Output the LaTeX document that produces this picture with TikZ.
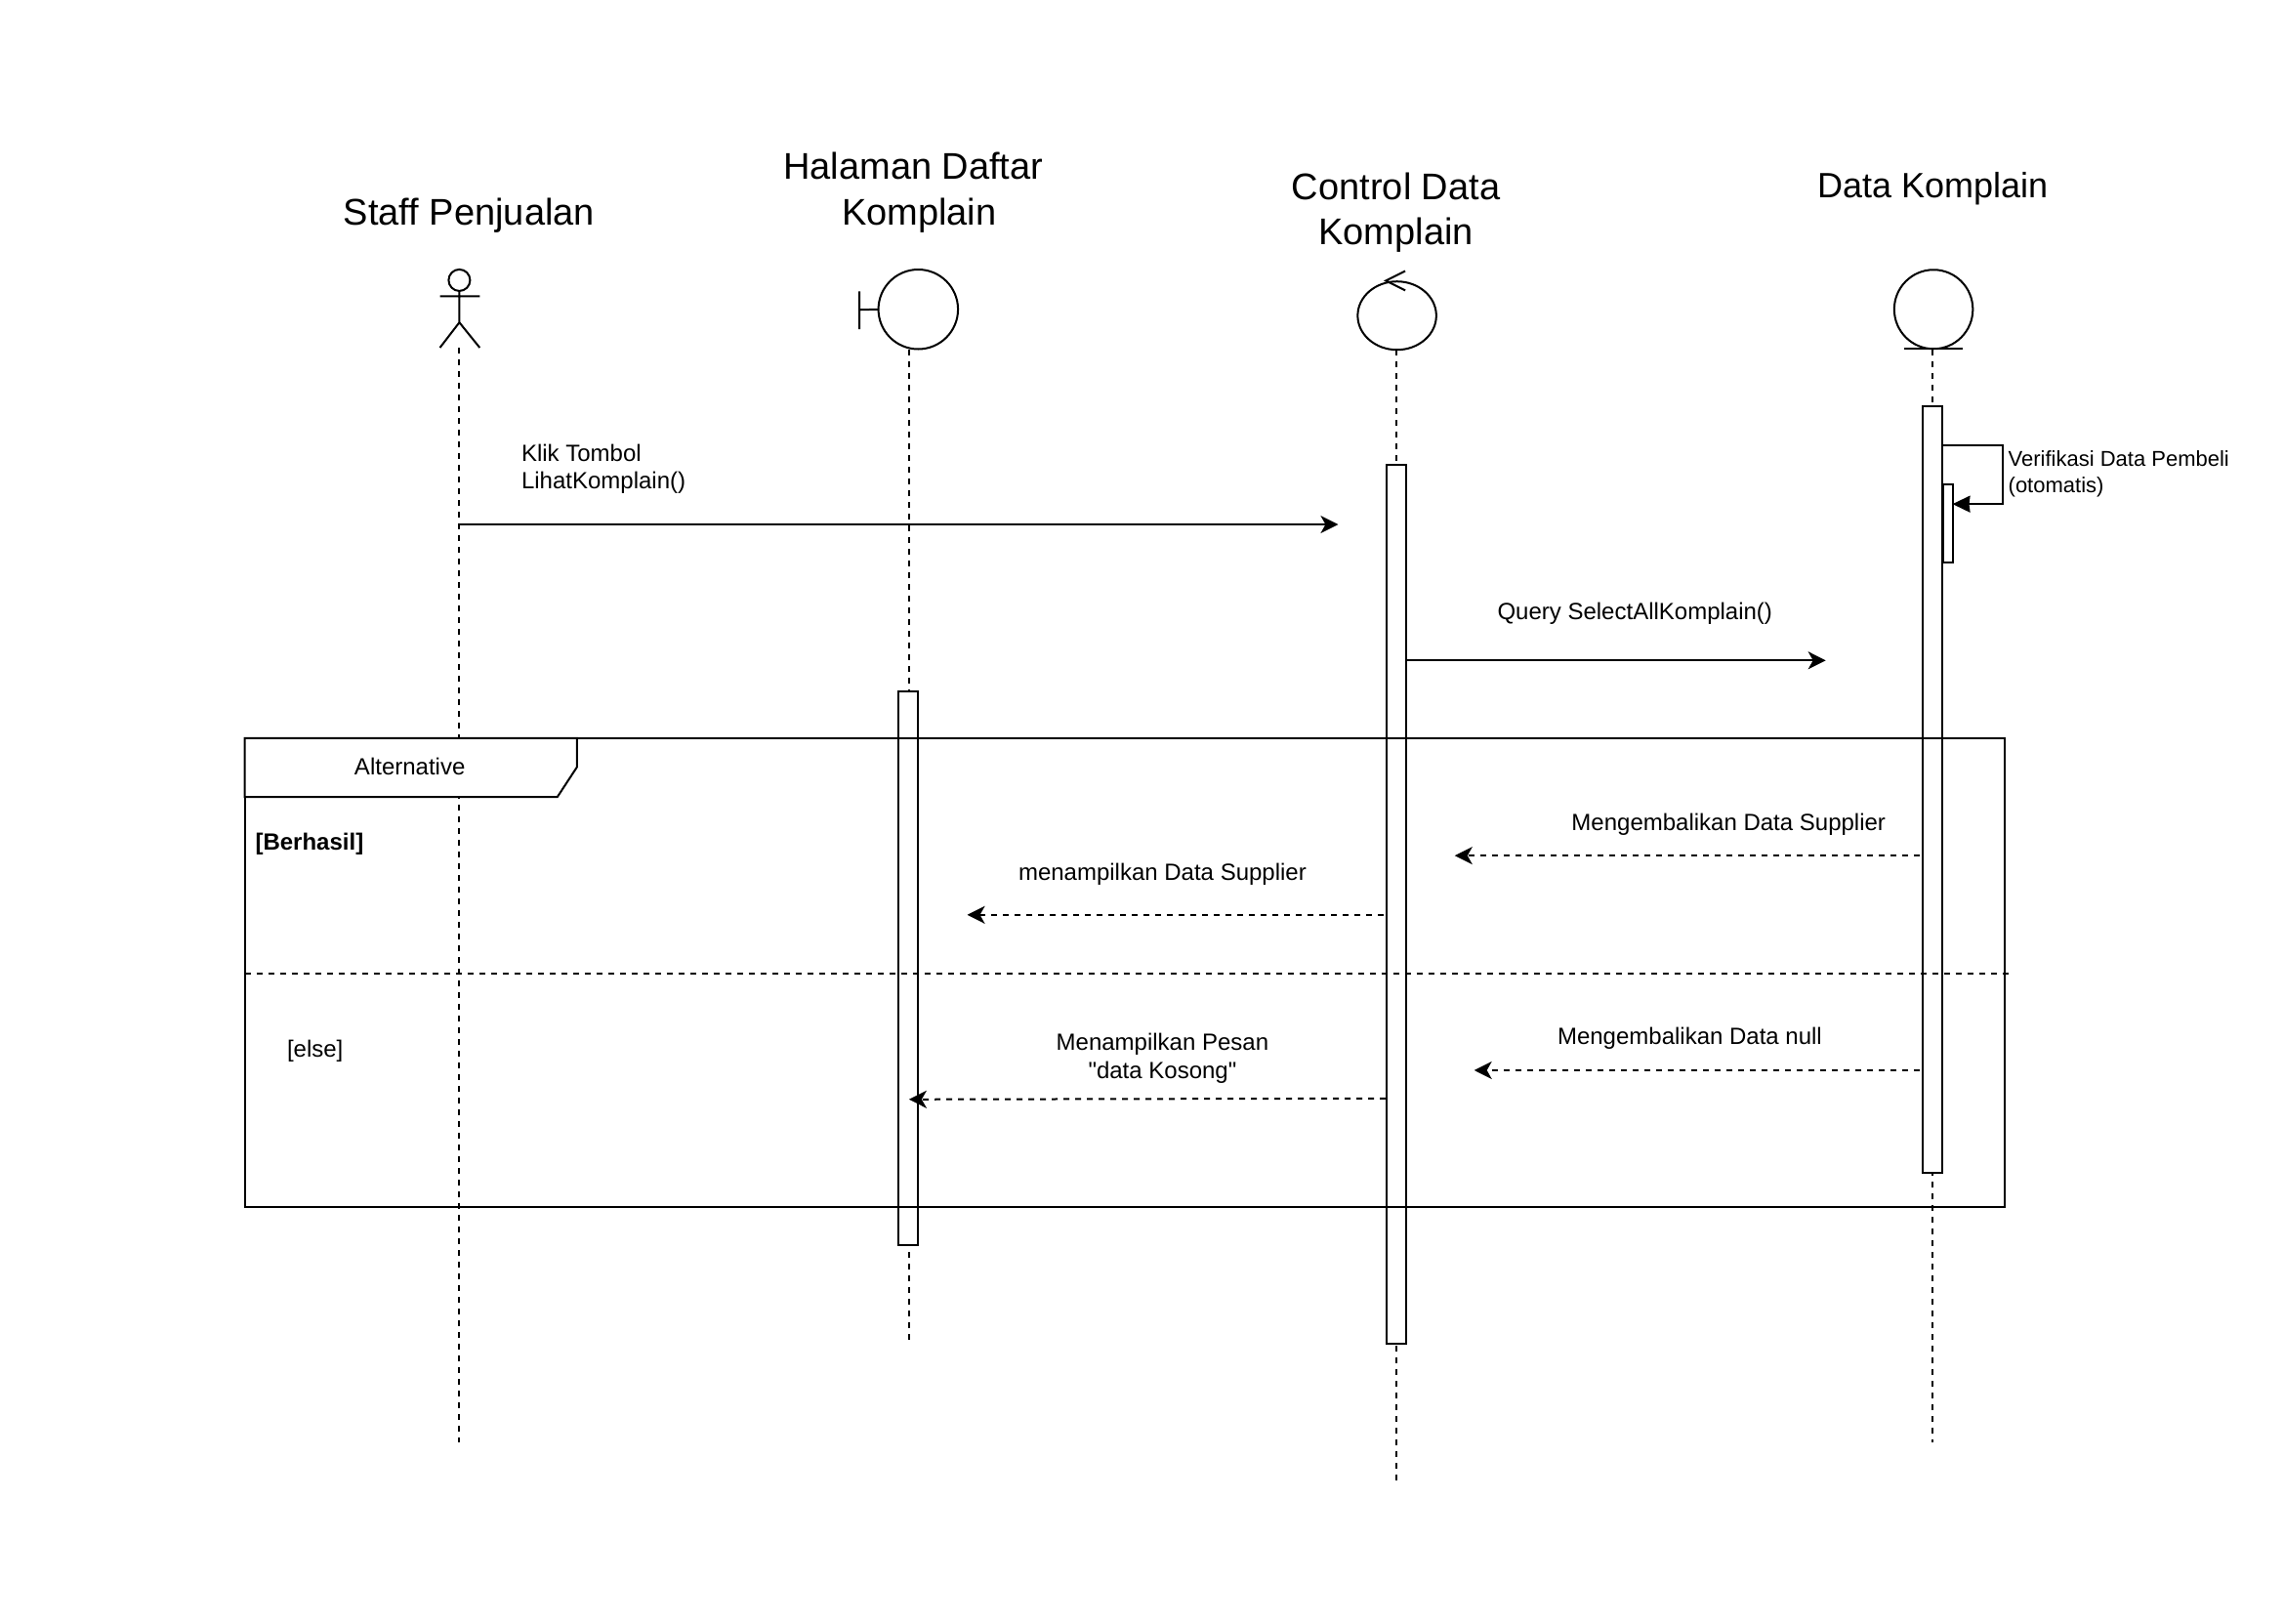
\documentclass[tikz,border=0pt]{standalone}
\usepackage{fontspec}
\setmainfont{Liberation Sans}[Ligatures=TeXOff]
\usetikzlibrary{arrows.meta,shapes.geometric}
\tikzset{
  x=0.9945pt,y=-0.9945pt,
  every node/.style={inner sep=0pt,outer sep=0pt},
  titletext/.style={font=\fontsize{38}{46.5}\selectfont,align=center},
  msgtext/.style={font=\fontsize{24}{29}\selectfont,align=center},
  msgleft/.style={font=\fontsize{24}{28}\selectfont,align=left,anchor=west},
  smalltext/.style={font=\fontsize{22}{27}\selectfont,align=left,anchor=west},
  shapeline/.style={draw=black,line width=2pt},
  lifeline/.style={draw=black,line width=2pt,dash pattern=on 6pt off 6pt},
  activation/.style={shapeline,fill=white,minimum width=#1,anchor=north},
  sync/.style={draw=black,line width=2pt,-{Stealth[length=18pt,width=18pt,inset=5pt]}},
  reply/.style={draw=black,line width=2pt,dash pattern=on 6pt off 6pt,-{Stealth[length=18pt,width=18pt,inset=5pt]}},
  selfarrow/.style={draw=black,line width=2pt,-{Stealth[length=18pt,width=17pt,inset=1pt]}},
}
\begin{document}
\begin{tikzpicture}
\path[use as bounding box] (0,0) rectangle (2351.9,1671.2);
\fill[white] (0,0) rectangle (2351.9,1671.2);

% titles
\node[titletext] (tstaff) at (483,221.5) {Staff Penjualan};
\node[titletext] (thal) at (946.5,198.5) {Halaman Daftar\kern12pt\\Komplain};
\node[titletext] (tctl) at (1437.5,219) {Control Data\\Komplain};
\node[titletext,font=\fontsize{36}{44}\selectfont] (tdata) at (1990,194) {Data Komplain};

% actor
\node[shapeline,circle,minimum size=22pt] (head) at (473,288.5) {};
\coordinate (armL) at (453,305);
\coordinate (armR) at (494,305);
\coordinate (hip) at (473,332);
\coordinate (legL) at (453,358);
\coordinate (legR) at (494,358);
\draw[shapeline] (head.south) -- (hip) (armL) -- (armR) (legL) -- (hip) -- (legR);

% boundary
\node[shapeline,circle,minimum size=81.5pt] (bnd) at (945.5,318.5) {};
\coordinate (barT) at (885,300);
\coordinate (barB) at (885,339);
\coordinate (barM) at (885,319);
\draw[shapeline] (barT) -- (barB) (barM) -- (bnd.west);

% control
\node[shapeline,ellipse,minimum width=80.5pt,minimum height=70pt] (ctl) at (1438.5,325) {};
\coordinate (ctlTip) at (1427,289);
\coordinate (ctlA) at (1447,279);
\coordinate (ctlB) at (1447,299);
\draw[shapeline] (ctlA) -- (ctlTip) -- (ctlB);

% entity
\node[shapeline,ellipse,minimum width=80.5pt,minimum height=81pt] (ent) at (1991,318.5) {};
\coordinate (entL) at (1961,358.5);
\coordinate (entR) at (2021,358.5);
\draw[shapeline] (entL) -- (entR);

% lifeline ends
\coordinate (lA0) at (473,358);
\coordinate (lA1) at (473,1485);
\coordinate (lB0) at (936,360);
\coordinate (lB1) at (936,1382);
\coordinate (lC0) at (1438,360);
\coordinate (lC1) at (1438,1526);
\coordinate (lD0) at (1990,360);
\coordinate (lD1) at (1990,1485);
\draw[lifeline] (lA0) -- (lA1);
\draw[lifeline] (lB0) -- (lB1);
\draw[lifeline] (lC0) -- (lC1);
\draw[lifeline] (lD0) -- (lD1);

% activations
\node[activation=20pt,minimum height=567pt] (aB) at (935.5,712) {};
\node[activation=20pt,minimum height=900pt] (aC) at (1438,479) {};
\node[activation=20pt,minimum height=785pt] (aD) at (1990,418.5) {};
\node[activation=10pt,minimum height=80pt] (aS) at (2005.5,499) {};

% frame
\node[draw=black,line width=2pt,minimum width=1802pt,minimum height=480pt,anchor=north west] (frame) at (252,760) {};
\coordinate (tabA) at (252,760);
\coordinate (tabB) at (594,760);
\coordinate (tabC) at (594,790);
\coordinate (tabD) at (574,820.5);
\coordinate (tabE) at (252,820.5);
\draw[shapeline,fill=white,line join=miter] (tabA) -- (tabB) -- (tabC) -- (tabD) -- (tabE) -- cycle;
\coordinate (divL) at (252,1002);
\coordinate (divR) at (2068,1002);
\draw[lifeline] (divL) -- (divR);

% frame labels
\node[msgtext] (lalt) at (422,789) {Alternative};
\node[msgleft,font=\fontsize{24}{28}\bfseries\selectfont] (lber) at (263,869) {[Berhasil]};
\node[msgtext] (lelse) at (324.5,1082) {[else]};

% messages
\coordinate (m1s) at (472,540);
\coordinate (m1e) at (1378,540);
\draw[sync] (m1s) -- (m1e);
\node[msgleft] (l1) at (537,483) {Klik Tombol\\LihatKomplain()};

\coordinate (m2s) at (aC.east |- 0,680);
\coordinate (m2e) at (1880,680);
\draw[sync] (m2s) -- (m2e);
\node[msgtext] (l2) at (1683.5,631.5) {Query SelectAllKomplain()};

\coordinate (m3a) at (aD.east |- 0,459);
\coordinate (m3b) at (2062,459);
\coordinate (m3c) at (2062,519);
\coordinate (m3d) at (aS.east |- 0,519);
\draw[selfarrow] (m3a) -- (m3b) -- (m3c) -- (m3d);
\node[smalltext] (l3) at (2068,488) {Verifikasi Data Pembeli\\(otomatis)};

\coordinate (m4s) at (1977,881);
\coordinate (m4e) at (1498,881);
\draw[reply] (m4s) -- (m4e);
\node[msgtext] (l4) at (1780,848.5) {Mengembalikan Data Supplier};

\coordinate (m5s) at (1425,942);
\coordinate (m5e) at (996,942);
\draw[reply] (m5s) -- (m5e);
\node[msgtext] (l5) at (1197,900) {menampilkan Data Supplier};

\coordinate (m6s) at (1977,1102);
\coordinate (m6e) at (1518,1102);
\draw[reply] (m6s) -- (m6e);
\node[msgtext] (l6) at (1740,1069) {Mengembalikan Data null};

\coordinate (m7s) at (1427,1131);
\coordinate (m7e) at (936,1132);
\draw[reply] (m7s) -- (m7e);
\node[msgtext] (l7) at (1197,1090) {Menampilkan Pesan\\"data Kosong"};
\end{tikzpicture}
\end{document}
